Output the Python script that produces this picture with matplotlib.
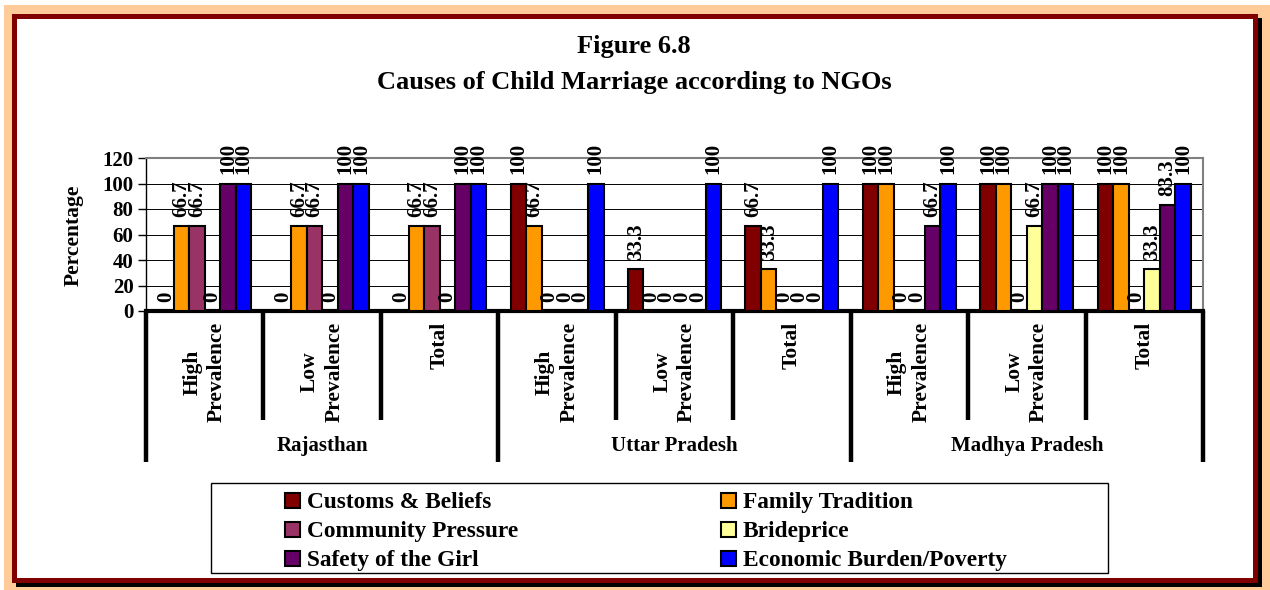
import matplotlib
matplotlib.use("Agg")
import matplotlib.pyplot as plt
from matplotlib.patches import Rectangle
import matplotlib.transforms as mtransforms
import numpy as np

plt.rcParams['font.family'] = ['Liberation Serif', 'DejaVu Serif']
plt.rcParams['font.weight'] = 'bold'

# ---------------- data ----------------
states = ["Rajasthan", "Uttar Pradesh", "Madhya Pradesh"]
subgroups = ["High\nPrevalence", "Low\nPrevalence", "Total"]
series_names = ["Customs & Beliefs", "Family Tradition", "Community Pressure",
                "Brideprice", "Safety of the Girl", "Economic Burden/Poverty"]
series_colors = ["#800000", "#FF9900", "#993366", "#FFFF99", "#660066", "#0000FF"]

customs   = [0, 0, 0, 100, 33.3, 66.7, 100, 100, 100]
family    = [66.7, 66.7, 66.7, 66.7, 0, 33.3, 100, 100, 100]
community = [66.7, 66.7, 66.7, 0, 0, 0, 0, 0, 0]
bride     = [0, 0, 0, 0, 0, 0, 0, 66.7, 33.3]
safety    = [100, 100, 100, 0, 0, 0, 66.7, 100, 83.3]
economic  = [100, 100, 100, 100, 100, 100, 100, 100, 100]
series_values = [customs, family, community, bride, safety, economic]

yticks = [0, 20, 40, 60, 80, 100, 120]
title_lines = ["Figure 6.8", "Causes of Child Marriage according to NGOs"]
ylabel = "Percentage"

# ---------------- figure ----------------
W, H = 1270, 590
fig = plt.figure(figsize=(W / 100, H / 100), dpi=100)
fig.patch.set_facecolor("white")


def fx(x):
    return x / W


def fy(y):
    return 1 - y / H


def frect(x0, y0, x1, y1, **kw):
    r = Rectangle((fx(x0), fy(y1)), fx(x1) - fx(x0), fy(y0) - fy(y1),
                  transform=fig.transFigure, **kw)
    fig.patches.append(r)
    return r


# outer frame
frect(4, 5, 1270, 590, facecolor="#FFCC99", edgecolor="none", zorder=-10)
frect(16, 18, 1262, 587, facecolor="black", edgecolor="none", zorder=-9)
frect(12, 14, 1258, 583, facecolor="#800000", edgecolor="none", zorder=-8)
frect(17, 19, 1253, 578, facecolor="white", edgecolor="none", zorder=-7)

# axes
ax_l, ax_r, ax_t, ax_b = 146, 1203, 158, 311
ax = fig.add_axes([fx(ax_l), fy(ax_b), fx(ax_r) - fx(ax_l), fy(ax_t) - fy(ax_b)])
ax.set_facecolor("none")

n = len(customs)
x = np.arange(n)
bw = 0.132
for i, (vals, col) in enumerate(zip(series_values, series_colors)):
    xs = x + (i - 2.5) * bw
    ax.bar(xs, vals, width=bw, color=col, edgecolor="black", linewidth=1.5, zorder=3)
    for xi, v in zip(xs, vals):
        ax.annotate(f"{v:g}", xy=(xi, v), xytext=(0, 6.5), textcoords="offset points",
                    rotation=90, ha="center", va="bottom", fontsize=15,
                    fontweight="bold", annotation_clip=False, zorder=5)

ax.set_xlim(-0.5, n - 0.5)
ax.set_ylim(0, 120)
ax.set_yticks(yticks)
ax.set_yticklabels([str(t) for t in yticks], fontsize=15, fontweight="bold")
ax.tick_params(axis="y", direction="out", length=6, width=1, pad=3, colors="black")
ax.set_xticks([])
for t in yticks[1:-1]:
    ax.axhline(t, color="black", linewidth=0.7, zorder=1)
ax.spines["left"].set_color("black")
ax.spines["left"].set_linewidth(1)
ax.spines["bottom"].set_color("black")
ax.spines["bottom"].set_linewidth(3)
ax.spines["top"].set_color("#808080")
ax.spines["top"].set_linewidth(1.5)
ax.spines["right"].set_color("#808080")
ax.spines["right"].set_linewidth(1.5)

# category separators and labels
trans = mtransforms.blended_transform_factory(ax.transData, ax.transAxes)
axh = ax_b - ax_t
inner_end = -(420 - ax_b) / axh
outer_end = -(462 - ax_b) / axh
for b in np.arange(-0.5, n, 1.0):
    end = outer_end if (b + 0.5) % 3 == 0 else inner_end
    ax.plot([b, b], [0, end], color="black", linewidth=3.2, transform=trans,
            clip_on=False, solid_capstyle="butt", zorder=6)

for i in range(n):
    ax.text(i, -(322 - ax_b) / axh, subgroups[i % 3], transform=trans, rotation=90,
            ha="center", va="top", multialignment="center", fontsize=15.5,
            fontweight="bold", linespacing=1.3)
for s, name in enumerate(states):
    ax.text(3 * s + 1, -(446 - ax_b) / axh, name, transform=trans, ha="center",
            va="center", fontsize=15, fontweight="bold")

# y label
fig.text(fx(74), fy(235), ylabel, rotation=90, ha="center", va="center",
         fontsize=15.5, fontweight="bold")

# title
fig.text(fx(634), fy(47), title_lines[0], ha="center", va="center",
         fontsize=19, fontweight="bold")
fig.text(fx(634), fy(83), title_lines[1], ha="center", va="center",
         fontsize=19, fontweight="bold")

# legend (manual)
frect(211, 483, 1108, 573, facecolor="white", edgecolor="black", linewidth=1, zorder=1)
row_y = [500, 529, 558]
col_sq = [285, 721]
for k, (name, col) in enumerate(zip(series_names, series_colors)):
    c = k % 2
    r = k // 2
    yc = row_y[r]
    frect(col_sq[c], yc - 7.5, col_sq[c] + 15, yc + 7.5, facecolor=col,
          edgecolor="black", linewidth=1.5, zorder=2)
    fig.text(fx(col_sq[c] + 22), fy(yc), name, ha="left", va="center_baseline",
             fontsize=16.8, fontweight="bold", zorder=3)

fig.savefig("out.png", dpi=100)
